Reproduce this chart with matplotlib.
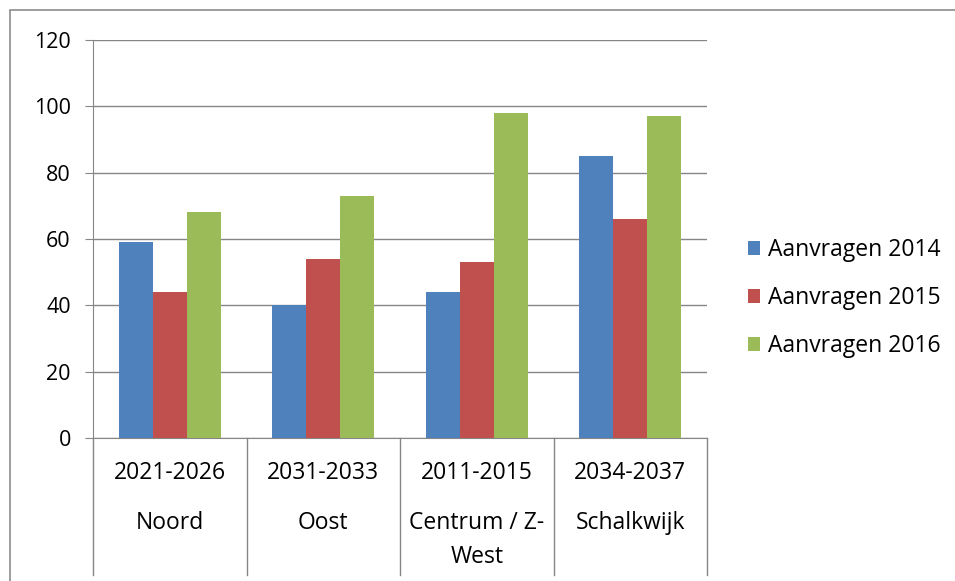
import numpy as np
import matplotlib.pyplot as plt
from matplotlib.patches import Rectangle

codes = ['2021-2026', '2031-2033', '2011-2015', '2034-2037']
wijken = ['Noord', 'Oost', 'Centrum / Z-\nWest', 'Schalkwijk']
series = ['Aanvragen 2014', 'Aanvragen 2015', 'Aanvragen 2016']
aanvragen_2014 = [59, 40, 44, 85]
aanvragen_2015 = [44, 54, 53, 66]
aanvragen_2016 = [68, 73, 98, 97]
colors = ['#4f81bd', '#c0504d', '#9bbb59']

plt.rcParams['font.family'] = ['Open Sans', 'DejaVu Sans']
grid = '#868686'
fs = 15.5
fs_big = 16.5

W, H = 955, 581
fig = plt.figure(figsize=(W / 100, H / 100), dpi=100)
ax = fig.add_axes([93 / W, 1 - 438 / H, 614 / W, 398 / H])

# outer chart border (partly outside the image)
fig.patches.append(Rectangle((10 / W, -0.1), 1.2, 1.1 - 10 / H,
                             transform=fig.transFigure, fill=False,
                             edgecolor='#8c8c8c', linewidth=1.2))

x = np.arange(len(codes))
w = 0.2215
for i, (vals, c, lab) in enumerate(zip([aanvragen_2014, aanvragen_2015, aanvragen_2016], colors, series)):
    ax.bar(x + (i - 1) * w, vals, w, color=c, label=lab, zorder=3)

ax.set_xlim(-0.5, 3.5)
ax.set_ylim(0, 120)
ax.set_yticks(range(0, 121, 20))
ax.yaxis.grid(True, color=grid, linewidth=1)
ax.set_axisbelow(True)
for s in ['top', 'right']:
    ax.spines[s].set_visible(False)
for s in ['left', 'bottom']:
    ax.spines[s].set_color(grid)
ax.tick_params(axis='y', length=6, color=grid, labelsize=fs, pad=10)
ax.tick_params(axis='x', length=0, labelbottom=False)

# two-level category labels with divider lines
xt = ax.get_xaxis_transform()
for d in np.arange(-0.5, 4, 1):
    ax.plot([d, d], [0, -0.345], transform=xt, color=grid, linewidth=1, clip_on=False)
for xi, code, wijk in zip(x, codes, wijken):
    ax.text(xi, -35 / 398, code, transform=xt, ha='center', va='center', fontsize=fs_big)
    for j, line in enumerate(wijk.split('\n')):
        ax.text(xi, -(85 + 34 * j) / 398, line, transform=xt, ha='center',
                va='center', fontsize=fs_big)

fig.legend(loc='center left', bbox_to_anchor=(727 / W, 1 - 298 / H), frameon=False,
           fontsize=fs_big, handlelength=0.53, handleheight=0.53, handletextpad=0.35,
           labelspacing=1.05)

fig.savefig('out.png', dpi=100)
